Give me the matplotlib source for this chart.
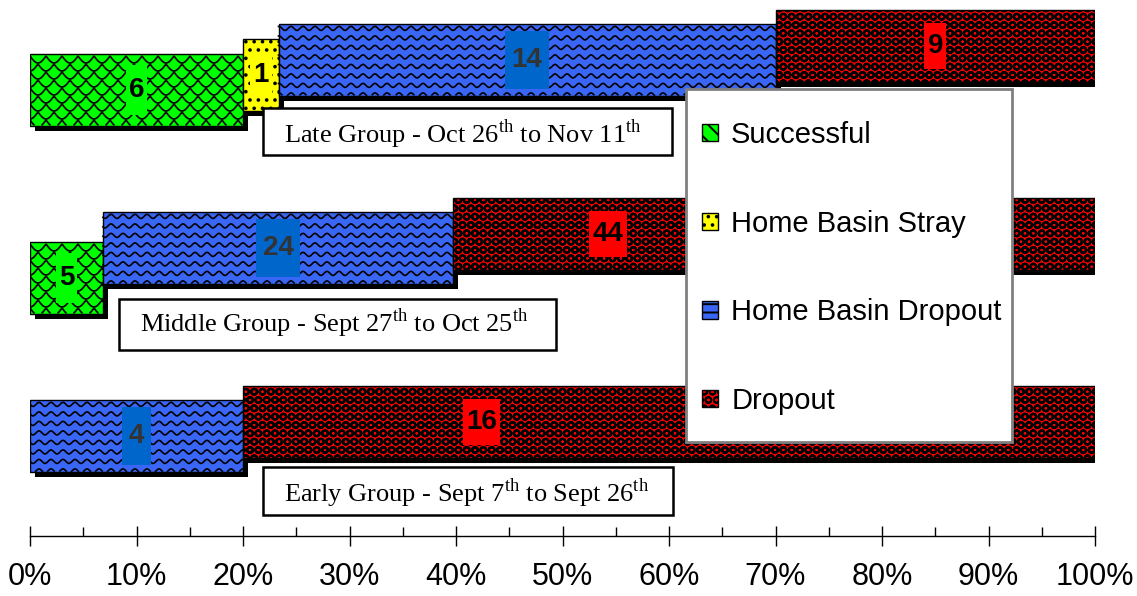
import numpy as np
import matplotlib.pyplot as plt
from matplotlib.patches import Patch, Rectangle
from matplotlib.ticker import MultipleLocator, PercentFormatter

plt.rcParams['font.family'] = ['Liberation Sans', 'DejaVu Sans']
plt.rcParams['mathtext.fontset'] = 'custom'
plt.rcParams['mathtext.rm'] = 'Liberation Serif'
plt.rcParams['hatch.linewidth'] = 1.4

# counts per run-timing group (top to bottom)
groups = ["Late", "Middle", "Early"]
successful = [6, 5, 0]
home_stray = [1, 0, 0]
home_dropout = [14, 24, 4]
dropout = [9, 44, 16]
series_names = ["Successful", "Home Basin Stray", "Home Basin Dropout", "Dropout"]
group_titles = [
    r"Late Group - Oct 26$^{\mathrm{th}}$ to Nov 11$^{\mathrm{th}}$",
    r"Middle Group - Sept 27$^{\mathrm{th}}$ to Oct 25$^{\mathrm{th}}$",
    r"Early Group - Sept 7$^{\mathrm{th}}$ to Sept 26$^{\mathrm{th}}$",
]

colors = ["#00FF00", "#FFFF00", "#3A66F5", "#FF0000"]
hatches = [None, "..", None, "OO"]
hatch_lw = [1.4, 1.4, 1.4, 1.65]
label_fg = ["black", "black", "#333333", "black"]
label_bg = ["#00FF00", "#FFFF00", "#0066CC", "#FF0000"]
label_h = [50, 41, 58, 46]
label_pad = [6, 7, 13, 7]
# dropout labels nudged left so the legend does not hide them
label_x = {(1, 3): 0.543, (2, 3): 0.424}

W, H = 1137, 596
fig = plt.figure(figsize=(W / 100, H / 100), dpi=100)
# y data runs in pixels from the top so the stepped layout is easy to place
ax = fig.add_axes([30 / W, (H - 536) / H, 1065 / W, 536 / H])
ax.set_xlim(0, 1)
ax.set_ylim(536, 0)

counts = np.array([successful, home_stray, home_dropout, dropout], dtype=float)
shares = counts / counts.sum(axis=0)
lefts = np.vstack([np.zeros(len(groups)), np.cumsum(shares, axis=0)[:-1]])

bar_h = 72
row_step = 188
series_step = 14.8
first_top = 54
px = 1 / 1065
shadow = 5


def texture(bar, i, left, width, top):
    xs = np.linspace(left, left + width, 600)
    rows = []
    if i == 2:
        # waves
        for yy in np.arange(top + 4, top + bar_h, 9.5):
            rows.append(yy + 2 * np.sin(2 * np.pi * xs / (12 * px)))
    elif i == 0:
        # overlapping scales
        for k, yy in enumerate(np.arange(top + 2, top + bar_h, 8)):
            phase = (k % 2) * 0.5
            rows.append(yy + 7 * np.abs(np.sin(np.pi * (xs / (16 * px) + phase))))
    for ys in rows:
        ys = np.where((ys > top + 1) & (ys < top + bar_h - 1), ys, np.nan)
        ax.plot(xs, ys, color="black", lw=1.2, zorder=4, clip_path=bar)


value_texts = []
for g in range(len(groups)):
    for i in range(len(series_names)):
        if counts[i, g] == 0:
            continue
        top = first_top + g * row_step - i * series_step
        left, width = lefts[i, g], shares[i, g]
        ax.add_patch(Rectangle((left + shadow * px, top + shadow), width, bar_h,
                               facecolor="black", edgecolor="none", zorder=2))
        with plt.rc_context({"hatch.linewidth": hatch_lw[i]}):
            bar = ax.barh(top, width, height=bar_h, left=left, align="edge",
                          color=colors[i], edgecolor="black", linewidth=1,
                          hatch=hatches[i], zorder=3)[0]
        texture(bar, i, left, width, top)
        cx = label_x.get((g, i), left + width / 2)
        cy = top + bar_h / 2
        t = ax.text(cx, cy, f"{int(counts[i, g])}",
                    ha="center", va="center", fontsize=20, fontweight="bold",
                    color=label_fg[i], zorder=6)
        value_texts.append((t, i, cx, cy))

# solid label backgrounds sized to the text
fig.canvas.draw()
renderer = fig.canvas.get_renderer()
for t, i, cx, cy in value_texts:
    w = (t.get_window_extent(renderer).width + label_pad[i]) * px
    ax.add_patch(Rectangle((cx - w / 2, cy - label_h[i] / 2), w, label_h[i],
                           facecolor=label_bg[i], edgecolor="none", zorder=5))

# group captions in framed boxes: left, right, top, bottom, baseline
title_boxes = [(263, 672, 108, 155, 143), (119, 556, 299, 350, 332),
               (263, 673, 467, 515, 502)]
for (x0, x1, y0, y1, base), title in zip(title_boxes, group_titles):
    ax.add_patch(Rectangle(((x0 - 30) * px, y0), (x1 - x0) * px, y1 - y0,
                           facecolor="white", edgecolor="black",
                           linewidth=1.8, zorder=7))
    t = ax.text((x0 - 30 + 21) * px, base, title, ha="left", va="baseline",
                fontsize=19, family="Liberation Serif", zorder=8)
    clip = Rectangle(((x0 - 30) * px, y0), (x1 - x0) * px, base + 2 - y0,
                     transform=ax.transData, visible=False)
    ax.add_patch(clip)
    t.set_clip_path(clip)

# percent axis
for side in ["top", "right", "left"]:
    ax.spines[side].set_visible(False)
ax.spines["bottom"].set_linewidth(1)
ax.set_yticks([])
ax.xaxis.set_major_locator(MultipleLocator(0.1))
ax.xaxis.set_minor_locator(MultipleLocator(0.05))
ax.xaxis.set_major_formatter(PercentFormatter(1.0, decimals=0))
ax.tick_params(axis="x", which="major", direction="inout", length=14,
               width=1, labelsize=22, pad=12)
ax.tick_params(axis="x", which="minor", direction="in", length=6.5, width=1)

# legend panel
fig.patches.append(Rectangle((686 / W, 1 - 442 / H), 326 / W, 353 / H,
                             transform=fig.transFigure, facecolor="white",
                             edgecolor="#808080", linewidth=2, zorder=9))
legend_hatches = [r"\\", "..", "--", "OO"]
handles = [Patch(facecolor=colors[i], edgecolor="black", hatch=legend_hatches[i],
                 label=series_names[i]) for i in range(len(series_names))]
leg = fig.legend(handles=handles, loc="upper left",
                 bbox_to_anchor=(702 / W, 1 - 121 / H), fontsize=21,
                 frameon=False, handlelength=0.55, handleheight=0.55,
                 handletextpad=0.45, labelspacing=2.08, borderpad=0,
                 borderaxespad=0)
leg.set_zorder(10)

fig.savefig("out.png", dpi=100)
